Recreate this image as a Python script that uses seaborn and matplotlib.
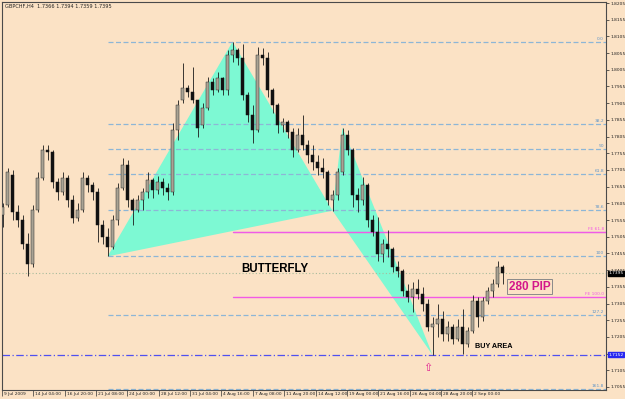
import numpy as np
import pandas as pd
import matplotlib
matplotlib.use("Agg")
import matplotlib.pyplot as plt
import seaborn as sns
from matplotlib import transforms

# ---------------- data (GBPCHF H4) ----------------
opens = [1.7571, 1.7601, 1.7691, 1.7580, 1.7556, 1.7482, 1.7422, 1.7586, 1.7682, 1.7766,
         1.7760, 1.7670, 1.7640, 1.7682, 1.7616, 1.7562, 1.7586, 1.7682, 1.7661, 1.7640,
         1.7541, 1.7503, 1.7473, 1.7556, 1.7652, 1.7721, 1.7616, 1.7586, 1.7616, 1.7640,
         1.7676, 1.7646, 1.7670, 1.7652, 1.7640, 1.7826, 1.7915, 1.7951, 1.7939, 1.7915,
         1.7841, 1.7891, 1.7969, 1.7945, 1.7981, 1.7945, 1.8050, 1.8065, 1.8041, 1.7930,
         1.7871, 1.7826, 1.8050, 1.8041, 1.7945, 1.7900, 1.7841, 1.7850, 1.7820, 1.7766,
         1.7811, 1.7781, 1.7751, 1.7730, 1.7712, 1.7700, 1.7616, 1.7631, 1.7700, 1.7811,
         1.7766, 1.7631, 1.7616, 1.7661, 1.7556, 1.7520, 1.7452, 1.7482, 1.7467, 1.7414,
         1.7401, 1.7342, 1.7324, 1.7348, 1.7333, 1.7303, 1.7234, 1.7243, 1.7258, 1.7213,
         1.7234, 1.7198, 1.7234, 1.7184, 1.7222, 1.7312, 1.7264, 1.7312, 1.7342, 1.7363,
         1.7414]
highs = [1.7607, 1.7712, 1.7706, 1.7601, 1.7571, 1.7517, 1.7601, 1.7700, 1.7781, 1.7781,
         1.7766, 1.7682, 1.7700, 1.7691, 1.7631, 1.7607, 1.7700, 1.7691, 1.7670, 1.7652,
         1.7556, 1.7532, 1.7571, 1.7667, 1.7742, 1.7736, 1.7622, 1.7631, 1.7652, 1.7700,
         1.7682, 1.7688, 1.7682, 1.7667, 1.7847, 1.7915, 1.8026, 1.7960, 1.8014, 1.7915,
         1.7906, 1.7984, 1.7981, 1.7999, 1.7984, 1.8065, 1.8089, 1.8071, 1.8083, 1.7939,
         1.7900, 1.8074, 1.8071, 1.8059, 1.7951, 1.7906, 1.7862, 1.7856, 1.7832, 1.7832,
         1.7871, 1.7796, 1.7781, 1.7751, 1.7742, 1.7706, 1.7646, 1.7712, 1.7832, 1.7826,
         1.7772, 1.7652, 1.7685, 1.7667, 1.7571, 1.7565, 1.7497, 1.7526, 1.7473, 1.7431,
         1.7407, 1.7363, 1.7369, 1.7378, 1.7354, 1.7318, 1.7264, 1.7303, 1.7282, 1.7252,
         1.7243, 1.7258, 1.7288, 1.7234, 1.7330, 1.7324, 1.7324, 1.7354, 1.7378, 1.7431,
         1.7420]
lows = [1.7535, 1.7595, 1.7556, 1.7535, 1.7467, 1.7387, 1.7414, 1.7580, 1.7676, 1.7736,
        1.7652, 1.7616, 1.7631, 1.7595, 1.7547, 1.7553, 1.7580, 1.7640, 1.7616, 1.7488,
        1.7482, 1.7446, 1.7467, 1.7541, 1.7646, 1.7595, 1.7541, 1.7580, 1.7586, 1.7622,
        1.7622, 1.7634, 1.7631, 1.7616, 1.7631, 1.7796, 1.7906, 1.7924, 1.7906, 1.7805,
        1.7832, 1.7885, 1.7930, 1.7939, 1.7930, 1.7930, 1.8029, 1.8020, 1.7915, 1.7850,
        1.7787, 1.7820, 1.8020, 1.7924, 1.7877, 1.7817, 1.7820, 1.7802, 1.7745, 1.7760,
        1.7766, 1.7727, 1.7706, 1.7691, 1.7682, 1.7601, 1.7583, 1.7616, 1.7691, 1.7751,
        1.7595, 1.7580, 1.7601, 1.7535, 1.7506, 1.7431, 1.7428, 1.7443, 1.7398, 1.7384,
        1.7327, 1.7309, 1.7279, 1.7318, 1.7282, 1.7222, 1.7151, 1.7204, 1.7192, 1.7192,
        1.7184, 1.7192, 1.7154, 1.7175, 1.7216, 1.7234, 1.7252, 1.7303, 1.7324, 1.7354,
        1.7363]
closes = [1.7595, 1.7700, 1.7580, 1.7556, 1.7482, 1.7422, 1.7586, 1.7682, 1.7766, 1.7760,
          1.7670, 1.7640, 1.7682, 1.7616, 1.7562, 1.7586, 1.7682, 1.7661, 1.7640, 1.7541,
          1.7503, 1.7473, 1.7556, 1.7652, 1.7721, 1.7616, 1.7586, 1.7616, 1.7640, 1.7676,
          1.7646, 1.7670, 1.7652, 1.7640, 1.7826, 1.7900, 1.7951, 1.7939, 1.7915, 1.7832,
          1.7891, 1.7969, 1.7945, 1.7981, 1.7945, 1.8050, 1.8065, 1.8041, 1.7930, 1.7871,
          1.7826, 1.8050, 1.8041, 1.7945, 1.7900, 1.7841, 1.7850, 1.7820, 1.7766, 1.7811,
          1.7781, 1.7751, 1.7730, 1.7712, 1.7700, 1.7616, 1.7631, 1.7700, 1.7811, 1.7766,
          1.7631, 1.7616, 1.7661, 1.7556, 1.7520, 1.7452, 1.7482, 1.7467, 1.7414, 1.7401,
          1.7342, 1.7324, 1.7348, 1.7333, 1.7303, 1.7234, 1.7243, 1.7258, 1.7213, 1.7234,
          1.7198, 1.7234, 1.7184, 1.7222, 1.7312, 1.7264, 1.7312, 1.7342, 1.7363, 1.7414,
          1.7395]

date_labels = ["9 Jul 2009", "14 Jul 04:00", "16 Jul 20:00", "21 Jul 08:00", "24 Jul 00:00",
               "28 Jul 12:00", "31 Jul 04:00", "4 Aug 16:00", "7 Aug 08:00", "11 Aug 20:00",
               "14 Aug 12:00", "19 Aug 00:00", "21 Aug 16:00", "26 Aug 04:00", "28 Aug 20:00",
               "2 Sep 00:00"]

fib_ratios = [0.0, 38.2, 50.0, 61.8, 78.6, 100.0, 127.2, 161.8]
fib_labels = ["0.0", "38.2", "50", "61.8", "78.6", "100", "127.2", "161.8"]
fe_ratios = [61.8, 100.0]
fe_labels = ["FE 61.8", "FE 100.0"]

# butterfly pivots (bar indices): X, A, B, C, D
pivot_X, pivot_A, pivot_B, pivot_C, pivot_D = 21, 46, 66, 68, 86
buy_level = 1.7152
header = "GBPCHF,H4  1.7366 1.7394 1.7359 1.7395"

# ---------------- figure ----------------
sns.set_theme(style="white")
plt.rcParams["font.family"] = ["DejaVu Sans"]
BG = "#FBE2C5"
SMALL = 3.2

fig = plt.figure(figsize=(6.25, 3.99), dpi=100, facecolor=BG)
ax = fig.add_axes([2 / 625, 9 / 399, 604 / 625, 388 / 399], facecolor=BG)

df = pd.DataFrame({"open": opens, "high": highs, "low": lows, "close": closes})
df["x"] = np.arange(len(df))
xmax = 120.7
ax.set_xlim(-0.1, xmax)
ax.set_ylim(1.7046, 1.8208)

pX = df.low[pivot_X]; pA = df.high[pivot_A]; pB = df.low[pivot_B]
pC = df.high[pivot_C]; pD = df.low[pivot_D]

# butterfly triangles
fill_c = "#7DF9D3"
ax.fill([pivot_X, pivot_A, pivot_B], [pX, pA, pB], color=fill_c, lw=0, zorder=1)
ax.fill([pivot_B, pivot_C, pivot_D], [pB, pC, pD], color=fill_c, lw=0, zorder=1)

# fibonacci retracement lines
fib_c = "#8DB6D6"
for r, lab in zip(fib_ratios, fib_labels):
    lvl = pA - r / 100 * (pA - pX)
    ax.plot([pivot_X, xmax], [lvl, lvl], color=fib_c, lw=0.9, ls=(0, (4, 2)), zorder=2)
    ax.text(xmax - 0.4, lvl + 0.0003, lab, ha="right", va="bottom", fontsize=SMALL,
            color="#5F95C8", zorder=5)

# fibonacci expansion lines (AB = CD)
fe_c = "#F25AE6"
for r, lab in zip(fe_ratios, fe_labels):
    lvl = pC - r / 100 * (pA - pB)
    if r == 61.8:
        ax.plot([pivot_A, xmax], [lvl - 0.00015, lvl - 0.00015], color="#8C8CF0", lw=0.8, zorder=2)
    ax.plot([pivot_A, xmax], [lvl, lvl], color=fe_c, lw=1.0, zorder=2)
    ax.text(xmax - 0.4, lvl + 0.0003, lab, ha="right", va="bottom", fontsize=SMALL,
            color=fe_c, zorder=5)

# current price dotted line & buy level dash-dot line
last = closes[-1]
ax.axhline(last, color="#A6BB9C", lw=0.8, ls=(0, (1, 2)), zorder=2)
ax.axhline(buy_level, color="#5050F0", lw=0.9, ls=(0, (6, 2, 1, 2)), zorder=2)

# candles
up = df.close >= df.open
ax.vlines(df.x, df.low, df.high, color="#1a1a1a", lw=0.6, zorder=3)
ax.bar(df.x[up], (df.close - df.open)[up], bottom=df.open[up], width=0.5,
       color="#A9A394", edgecolor="#2a2a2a", lw=0.35, zorder=4)
ax.bar(df.x[~up], (df.close - df.open)[~up], bottom=df.open[~up], width=0.5,
       color="#111111", edgecolor="#111111", lw=0.35, zorder=4)

# annotations
ax.text(54.5, 1.7407, "BUTTERFLY", fontsize=8.3, fontweight="bold", color="black",
        ha="center", va="center", family="Liberation Sans", zorder=6)
ax.text(105.4, 1.7355, "280 PIP", fontsize=8.5, fontweight="bold", color="#D4178A",
        ha="center", va="center", family="Liberation Sans", zorder=6,
        bbox=dict(boxstyle="square,pad=0.12", fc="none", ec="#8a8a8a", lw=0.7))
ax.text(98.3, 1.7177, "BUY AREA", fontsize=5.2, fontweight="bold", color="black",
        ha="center", va="center", family="Liberation Sans", zorder=6)
ax.text(85.1, 1.7112, "\u21e7", fontsize=8, color="#E0208F", ha="center", va="center", zorder=6)

# axes styling
for s in ax.spines.values():
    s.set_color("#4a4a4a")
    s.set_linewidth(0.8)
ax.grid(False)

ax.yaxis.tick_right()
yt = np.round(1.7055 + 0.005 * np.arange(24), 4)
ax.set_yticks(yt)
# the scale label hidden behind the buy-level price box is left blank
ax.set_yticklabels(["" if abs(v - buy_level) < 0.001 else f"{v:.4f}" for v in yt])
ax.tick_params(axis="y", labelsize=SMALL, pad=1.5, length=2, width=0.5, colors="#222222",
               right=True, left=False)

xt = np.arange(len(date_labels)) * 6.27 - 0.1
ax.set_xticks(xt)
ax.set_xticklabels([""] * len(xt))
ax.tick_params(axis="x", direction="out", length=4, width=0.5, colors="#333333", bottom=True)
tr = transforms.offset_copy(ax.get_xaxis_transform(), fig=fig, x=2, y=-1.5, units="dots")
for p, lab in zip(xt, date_labels):
    ax.text(p, 0, lab, transform=tr, ha="left", va="top", fontsize=SMALL, color="#222222",
            clip_on=False)

# price boxes on the scale
btr = transforms.blended_transform_factory(ax.transAxes, ax.transData)
ax.text(1.004, last, f"{last:.4f}", transform=btr, ha="left", va="center", fontsize=SMALL,
        color="white", bbox=dict(boxstyle="square,pad=0.15", fc="black", ec="black"),
        clip_on=False, zorder=7)
ax.text(1.004, buy_level, f"{buy_level:.4f}", transform=btr, ha="left", va="center",
        fontsize=SMALL, color="white",
        bbox=dict(boxstyle="square,pad=0.15", fc="#2828F0", ec="#2828F0"),
        clip_on=False, zorder=7)

fig.text(5 / 625, 1 - 6 / 399, header, fontsize=3.6, color="#222222", ha="left", va="center")

fig.savefig("out.png", dpi=100, facecolor=BG)
